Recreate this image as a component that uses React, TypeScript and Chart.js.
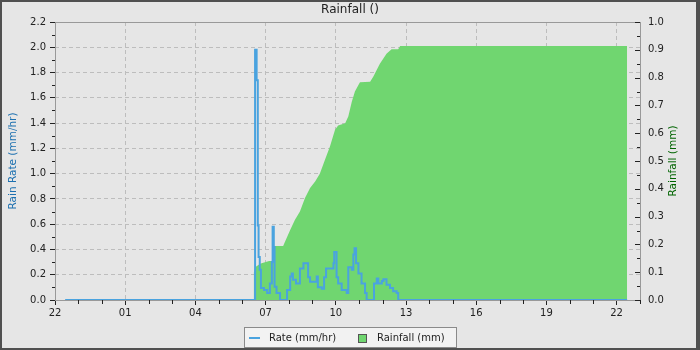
import React, { useEffect, useRef } from 'react';
import { Chart, registerables } from 'chart.js';

Chart.register(...registerables);

const FONT = 'DejaVu Sans';
const TITLE = 'Rainfall ()';
const RATE_LABEL = 'Rate (mm/hr)';
const TOTAL_LABEL = 'Rainfall (mm)';
const LEFT_AXIS_TITLE = 'Rain Rate (mm/hr)';
const RIGHT_AXIS_TITLE = 'Rainfall (mm)';

// time in minutes after 22:00
const rateTimes = [26, 510, 513, 517, 520, 522, 525, 528, 536, 544, 551, 556, 558, 561, 563, 568, 577, 592, 595, 603, 607, 610, 618, 628, 637, 646, 649, 654, 671, 674, 684, 690, 695, 714, 716, 722, 726, 735, 748, 752, 761, 765, 768, 772, 778, 786, 795, 799, 818, 825, 829, 838, 842, 850, 859, 867, 876, 880, 1467];
const rateValues = [0, 0, 1.98, 1.74, 0.59, 0.34, 0.24, 0.095, 0.08, 0.055, 0.13, 0.3, 0.58, 0.42, 0.105, 0.055, 0, 0, 0.08, 0.185, 0.21, 0.16, 0.13, 0.25, 0.29, 0.29, 0.18, 0.145, 0.185, 0.1, 0.09, 0.18, 0.25, 0.29, 0.38, 0.18, 0.13, 0.08, 0.055, 0.26, 0.24, 0.36, 0.41, 0.29, 0.21, 0.13, 0.055, 0, 0.13, 0.17, 0.13, 0.15, 0.165, 0.12, 0.095, 0.07, 0.055, 0, 0];

const totalTimes = [26, 510, 510, 515, 526, 536, 549, 559, 559, 585, 590, 603, 615, 628, 641, 654, 667, 679, 692, 705, 718, 726, 744, 752, 761, 769, 778, 782, 808, 816, 833, 850, 863, 880, 885, 1467];
const totalValues = [0, 0, 0.1, 0.12, 0.13, 0.135, 0.14, 0.14, 0.194, 0.194, 0.21, 0.252, 0.288, 0.318, 0.367, 0.403, 0.426, 0.454, 0.504, 0.552, 0.612, 0.628, 0.636, 0.66, 0.713, 0.75, 0.773, 0.783, 0.785, 0.803, 0.85, 0.886, 0.902, 0.902, 0.914, 0.914];

const xTickMinutes = [0, 180, 360, 540, 720, 900, 1080, 1260, 1440];
const xTickLabels = ['22', '01', '04', '07', '10', '13', '16', '19', '22'];

const BLUE = '#4aa3df';
const GREEN = '#70d670';
const GRID = '#bdbdbd';
const TEXT = '#222222';

const decorPlugin = {
  id: 'decor',
  beforeDraw(chart: any) {
    const ctx = chart.ctx;
    ctx.save();
    ctx.fillStyle = '#505050';
    ctx.fillRect(0, 0, chart.width, chart.height);
    ctx.fillStyle = '#e6e6e6';
    ctx.fillRect(2, 2, chart.width - 6, chart.height - 4);
    ctx.restore();
  },
  afterDraw(chart: any) {
    const ctx = chart.ctx;
    const { left, right, top, bottom } = chart.chartArea;
    const xs = chart.scales.x;
    const ys = chart.scales.y;
    const y1 = chart.scales.y1;
    ctx.save();
    // frame
    ctx.strokeStyle = '#999999';
    ctx.lineWidth = 1;
    ctx.strokeRect(Math.round(left) + 0.5, Math.round(top) + 0.5, Math.round(right - left), Math.round(bottom - top));
    // minor ticks
    ctx.strokeStyle = TEXT;
    ctx.beginPath();
    for (let m = 60; m <= 1500; m += 60) {
      if (m % 180 === 0) continue;
      const px = Math.round(xs.getPixelForValue(m)) + 0.5;
      ctx.moveTo(px, bottom);
      ctx.lineTo(px, bottom + 4);
    }
    for (let i = 1; i < 22; i += 2) {
      const py = Math.round(ys.getPixelForValue(i / 10)) + 0.5;
      ctx.moveTo(left - 3, py);
      ctx.lineTo(left, py);
    }
    for (let i = 0; i <= 20; i++) {
      const py = Math.round(y1.getPixelForValue(i / 20)) + 0.5;
      const len = i % 2 === 0 ? 5 : 3;
      ctx.moveTo(right - len, py);
      ctx.lineTo(right, py);
    }
    ctx.stroke();
    // right axis title
    ctx.fillStyle = '#006400';
    ctx.font = `10.5px "${FONT}"`;
    ctx.textAlign = 'center';
    ctx.textBaseline = 'middle';
    ctx.translate(673, (top + bottom) / 2);
    ctx.rotate(-Math.PI / 2);
    ctx.fillText(RIGHT_AXIS_TITLE, 0, 0);
    ctx.setTransform(1, 0, 0, 1, 0, 0);
    // legend
    const ds = chart.data.datasets;
    ctx.fillStyle = '#f2f2f2';
    ctx.fillRect(244.5, 327.5, 212, 20);
    ctx.strokeStyle = '#8a8a8a';
    ctx.strokeRect(244.5, 327.5, 212, 20);
    ctx.strokeStyle = ds[0].borderColor;
    ctx.lineWidth = 2;
    ctx.beginPath();
    ctx.moveTo(249, 338);
    ctx.lineTo(260, 338);
    ctx.stroke();
    ctx.fillStyle = ds[1].backgroundColor;
    ctx.fillRect(358.5, 334.5, 8, 8);
    ctx.strokeStyle = '#555555';
    ctx.lineWidth = 1;
    ctx.strokeRect(358.5, 334.5, 8, 8);
    ctx.fillStyle = TEXT;
    ctx.font = `10px "${FONT}"`;
    ctx.textAlign = 'left';
    ctx.textBaseline = 'middle';
    ctx.fillText(ds[0].label, 269, 338);
    ctx.fillText(ds[1].label, 377, 338);
    ctx.restore();
  },
};

export default function App() {
  const ref = useRef<HTMLCanvasElement>(null);
  useEffect(() => {
    document.body.style.margin = '0';
    Chart.defaults.font.family = FONT;
    const ratePts = rateTimes.map((t, i) => ({ x: t, y: rateValues[i] }));
    const totalPts = totalTimes.map((t, i) => ({ x: t, y: totalValues[i] }));
    const chart = new Chart(ref.current as HTMLCanvasElement, {
      type: 'line',
      data: {
        datasets: [
          {
            label: RATE_LABEL,
            data: ratePts,
            yAxisID: 'y',
            borderColor: BLUE,
            backgroundColor: BLUE,
            borderWidth: 2,
            pointRadius: 0,
            stepped: true,
            fill: false,
          },
          {
            label: TOTAL_LABEL,
            data: totalPts,
            yAxisID: 'y1',
            borderColor: GREEN,
            backgroundColor: GREEN,
            borderWidth: 0,
            pointRadius: 0,
            fill: 'origin',
          },
        ],
      },
      options: {
        animation: false,
        responsive: false,
        layout: { padding: 0 },
        plugins: {
          legend: { display: false },
          tooltip: { enabled: false },
          title: {
            display: true,
            text: TITLE,
            color: TEXT,
            font: { family: FONT, size: 12, weight: 'normal' },
            padding: { top: 3, bottom: 4.6 },
          },
        },
        scales: {
          x: {
            type: 'linear',
            min: 0,
            max: 1500,
            afterFit: (s: any) => { s.height = 50; },
            afterBuildTicks: (s: any) => { s.ticks = xTickMinutes.map((v) => ({ value: v })); },
            ticks: {
              autoSkip: false,
              maxRotation: 0,
              padding: 2,
              color: TEXT,
              font: { family: FONT, size: 10 },
              callback: (_v: any, i: number) => xTickLabels[i],
            },
            grid: { color: GRID, tickColor: TEXT, tickLength: 5, lineWidth: 1 },
            border: { display: false, dash: [4, 3] },
          },
          y: {
            position: 'left',
            min: 0,
            max: 2.2,
            afterFit: (s: any) => { s.width = 55; },
            ticks: {
              stepSize: 0.2,
              padding: 4,
              color: TEXT,
              font: { family: FONT, size: 10 },
              callback: (v: any) => Number(v).toFixed(1),
            },
            title: {
              display: true,
              text: LEFT_AXIS_TITLE,
              color: '#1c70b0',
              font: { family: FONT, size: 10.5 },
              padding: { top: 7, bottom: 0 },
            },
            grid: { color: GRID, tickColor: TEXT, tickLength: 5, lineWidth: 1 },
            border: { display: false, dash: [4, 3] },
          },
          y1: {
            position: 'right',
            min: 0,
            max: 1.0,
            afterFit: (s: any) => { s.width = 60; },
            ticks: {
              stepSize: 0.1,
              padding: 8,
              color: TEXT,
              font: { family: FONT, size: 10 },
              callback: (v: any) => Number(v).toFixed(1),
            },
            grid: { drawOnChartArea: false, drawTicks: false },
            border: { display: false },
          },
        },
      },
      plugins: [decorPlugin],
    } as any);
    return () => chart.destroy();
  }, []);
  return (
    <div style={{ position: 'absolute', left: 0, top: 0, width: 700, height: 350 }}>
      <canvas ref={ref} width={700} height={350} style={{ display: 'block' }} />
    </div>
  );
}
